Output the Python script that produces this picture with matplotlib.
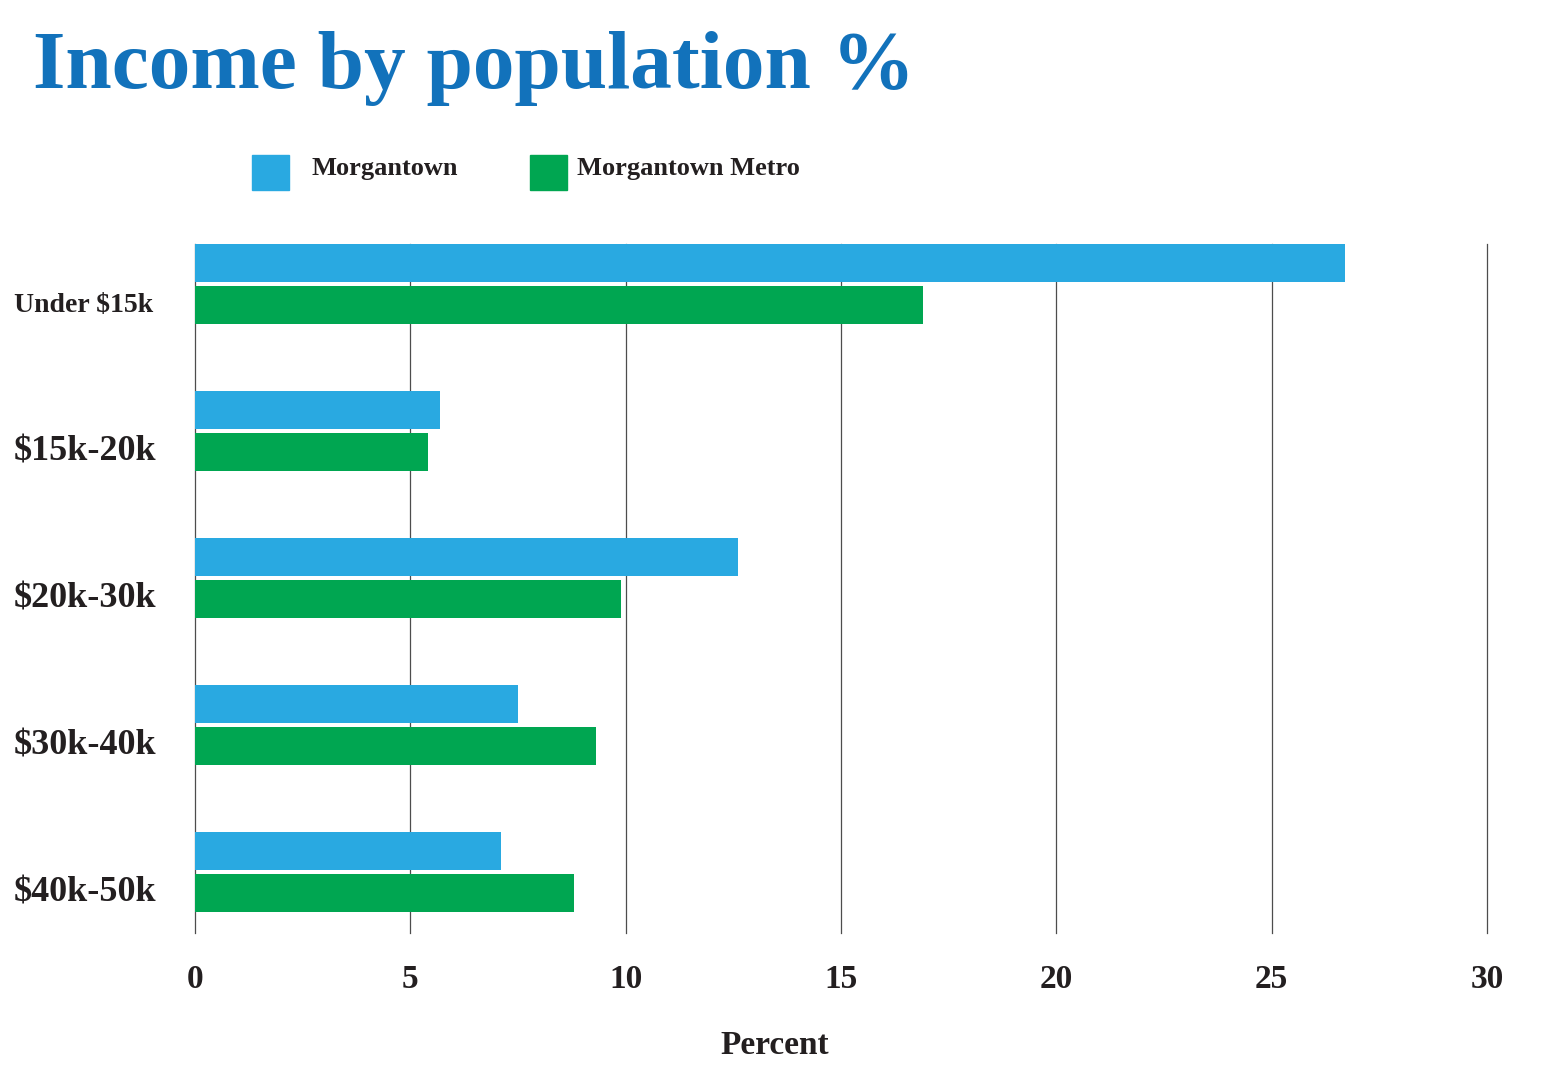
import numpy as np
import matplotlib
matplotlib.use('Agg')
import matplotlib.pyplot as plt
from matplotlib.patches import Rectangle
from matplotlib.transforms import blended_transform_factory

categories = ['Under $15k', '$15k-20k', '$20k-30k', '$30k-40k', '$40k-50k']
morgantown = [26.7, 5.7, 12.6, 7.5, 7.1]
metro = [16.9, 5.4, 9.9, 9.3, 8.8]
xticks = [0, 5, 10, 15, 20, 25, 30]
series_names = ['Morgantown', 'Morgantown Metro']

BLUE = '#29a9e1'
GREEN = '#00a651'
TITLE_BLUE = '#1272bb'
TEXT = '#231f20'

plt.rcParams['font.family'] = ['Liberation Serif', 'DejaVu Serif']

W, H = 1543, 1089
fig = plt.figure(figsize=(W/100, H/100), dpi=100)
ax = fig.add_axes([195/W, 1 - 933/H, (1487-195)/W, (933-244)/H])

y = np.arange(len(categories))
off = 0.143
h = 0.26
ax.barh(y - off, morgantown, height=h, color=BLUE, zorder=3, label=series_names[0])
ax.barh(y + off, metro, height=h, color=GREEN, zorder=3, label=series_names[1])

ax.set_xlim(0, 30)
ax.set_ylim(4.415, -0.272)
ax.set_xticks(xticks)
ax.set_xticklabels([str(t) for t in xticks], fontsize=24, color=TEXT, fontweight='bold')
ax.tick_params(axis='x', length=0, pad=22)
ax.set_yticks([])
for t in xticks:
	ax.axvline(t, color='#4d4d4d', lw=0.9, zorder=1, clip_on=False)
for s in ax.spines.values():
	s.set_visible(False)

# category labels, left aligned, sitting level with the green bar
lab_tr = blended_transform_factory(fig.transFigure, ax.transData)
for i, c in enumerate(categories):
	size = 20 if i == 0 else 26
	ax.text(14/W, y[i] + off, c, transform=lab_tr, fontsize=size,
		color=TEXT, fontweight='bold', va='center', ha='left')

fig.text(775/W, 1 - 1046/H, 'Percent', fontsize=24, fontweight='bold', color=TEXT,
	ha='center', va='center')

fig.text(33/W, 1 - 88/H, 'Income by population %', fontsize=60, fontweight='bold',
	color=TITLE_BLUE, ha='left', va='baseline')

# legend
leg_x = [252, 530]
leg_cols = [BLUE, GREEN]
leg_tx = [311, 577]
for lx, col, tx, name in zip(leg_x, leg_cols, leg_tx, series_names):
	fig.patches.append(Rectangle((lx/W, 1 - 190/H), 37/W, 35/H, transform=fig.transFigure,
		color=col, figure=fig))
	fig.text(tx/W, 1 - 168/H, name, fontsize=19, fontweight='bold', color=TEXT,
		ha='left', va='center')

fig.savefig('out.png', dpi=100)
